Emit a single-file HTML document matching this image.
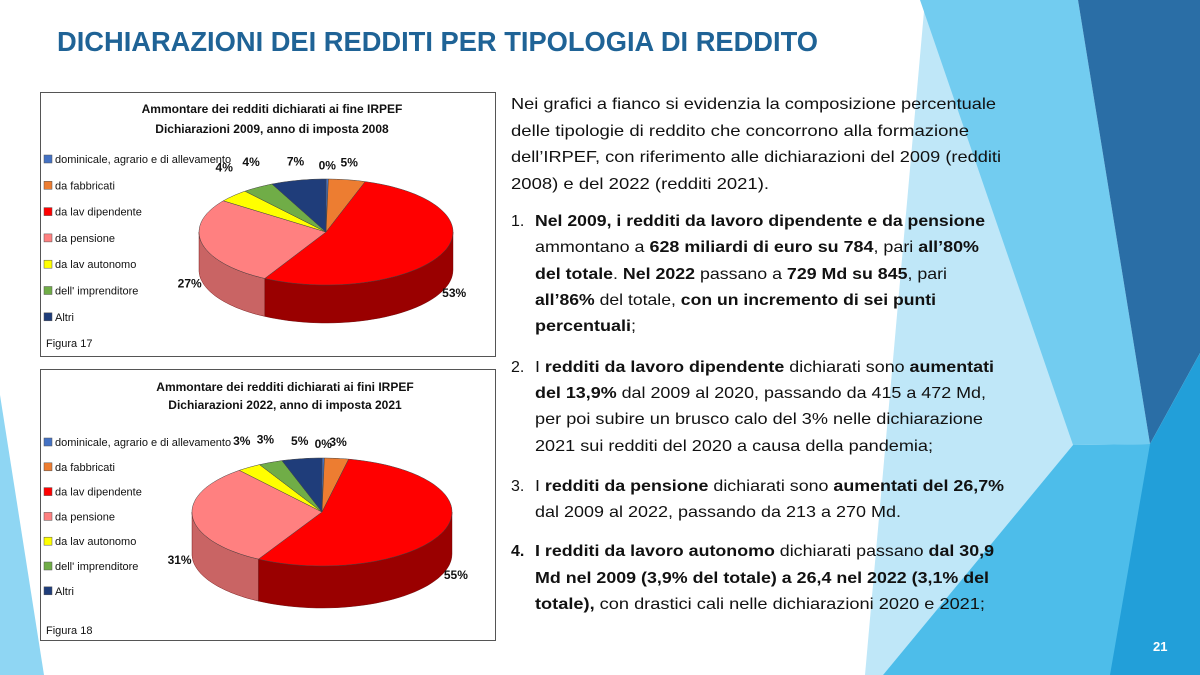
<!DOCTYPE html>
<html><head><meta charset="utf-8"><style>
html,body{margin:0;padding:0;background:#fff;}
svg{display:block;font-family:"Liberation Sans",sans-serif;}
.t{font-size:16px;fill:#111;}
.b{font-weight:bold;}
.lg{font-size:11px;fill:#111;}
.ct{font-size:12px;font-weight:bold;fill:#111;}
.pl{font-size:12px;font-weight:bold;fill:#111;}
</style></head><body>
<svg id="s" width="1200" height="675" viewBox="0 0 1200 675" xmlns="http://www.w3.org/2000/svg">
<g>
<polygon points="925,0 1073,445 883,675 865,675" fill="#bfe7f8"/>
<polygon points="920,0 1078,0 1150,444 1073,445" fill="#72ccf0"/>
<polygon points="1073,445 1150,444 1200,675 883,675" fill="#4dbdea"/>
<polygon points="1078,0 1200,0 1200,353 1150,444" fill="#2a6ea6"/>
<polygon points="1150,444 1200,353 1200,675 1110,675" fill="#229fd9"/>
<polygon points="0,395 44,675 0,675" fill="#8fd6f3"/>
</g>
<text x="57" y="51" font-size="28" font-weight="bold" fill="#1f6396" textLength="761" lengthAdjust="spacingAndGlyphs">DICHIARAZIONI DEI REDDITI PER TIPOLOGIA DI REDDITO</text>

<g>
<text class="t" x="511" y="109" textLength="485" lengthAdjust="spacingAndGlyphs">Nei grafici a fianco si evidenzia la composizione percentuale</text>
<text class="t" x="511" y="136" textLength="458" lengthAdjust="spacingAndGlyphs">delle tipologie di reddito che concorrono alla formazione</text>
<text class="t" x="511" y="162" textLength="490" lengthAdjust="spacingAndGlyphs">dell’IRPEF, con riferimento alle dichiarazioni del 2009 (redditi</text>
<text class="t" x="511" y="189" textLength="258" lengthAdjust="spacingAndGlyphs">2008) e del 2022 (redditi 2021).</text>

<text class="t" x="511" y="226">1.</text>
<text class="t b" x="535" y="226" textLength="450" lengthAdjust="spacingAndGlyphs">Nel 2009, i redditi da lavoro dipendente e da pensione</text>
<text class="t" x="535" y="252" textLength="444" lengthAdjust="spacingAndGlyphs">ammontano a <tspan class="b">628 miliardi di euro su 784</tspan>, pari <tspan class="b">all’80%</tspan></text>
<text class="t" x="535" y="279" textLength="412" lengthAdjust="spacingAndGlyphs"><tspan class="b">del totale</tspan>. <tspan class="b">Nel 2022</tspan> passano a <tspan class="b">729 Md su 845</tspan>, pari</text>
<text class="t" x="535" y="305" textLength="401" lengthAdjust="spacingAndGlyphs"><tspan class="b">all’86%</tspan> del totale, <tspan class="b">con un incremento di sei punti</tspan></text>
<text class="t b" x="535" y="331" textLength="101" lengthAdjust="spacingAndGlyphs">percentuali<tspan font-weight="normal">;</tspan></text>

<text class="t" x="511" y="372">2.</text>
<text class="t" x="535" y="372" textLength="459" lengthAdjust="spacingAndGlyphs">I <tspan class="b">redditi da lavoro dipendente</tspan> dichiarati sono <tspan class="b">aumentati</tspan></text>
<text class="t" x="535" y="398" textLength="451" lengthAdjust="spacingAndGlyphs"><tspan class="b">del 13,9%</tspan> dal 2009 al 2020, passando da 415 a 472 Md,</text>
<text class="t" x="535" y="424" textLength="448" lengthAdjust="spacingAndGlyphs">per poi subire un brusco calo del 3% nelle dichiarazione</text>
<text class="t" x="535" y="451" textLength="398" lengthAdjust="spacingAndGlyphs">2021 sui redditi del 2020 a causa della pandemia;</text>

<text class="t" x="511" y="491">3.</text>
<text class="t" x="535" y="491" textLength="469" lengthAdjust="spacingAndGlyphs">I <tspan class="b">redditi da pensione</tspan> dichiarati sono <tspan class="b">aumentati del 26,7%</tspan></text>
<text class="t" x="535" y="517" textLength="366" lengthAdjust="spacingAndGlyphs">dal 2009 al 2022, passando da 213 a 270 Md.</text>

<text class="t b" x="511" y="556">4.</text>
<text class="t" x="535" y="556" textLength="459" lengthAdjust="spacingAndGlyphs"><tspan class="b">I redditi da lavoro autonomo</tspan> dichiarati passano <tspan class="b">dal 30,9</tspan></text>
<text class="t b" x="535" y="583" textLength="454" lengthAdjust="spacingAndGlyphs">Md nel 2009 (3,9% del totale) a 26,4 nel 2022 (3,1% del</text>
<text class="t" x="535" y="609" textLength="450" lengthAdjust="spacingAndGlyphs"><tspan class="b">totale),</tspan> con drastici cali nelle dichiarazioni 2020 e 2021;</text>
</g>
<text x="1153" y="651" font-size="13" font-weight="bold" fill="#fff">21</text>

<g id="c1">
<rect x="40.5" y="92.5" width="455" height="264" fill="#fff" stroke="#555"/>
<text class="ct" x="272" y="113" text-anchor="middle">Ammontare dei redditi dichiarati ai fine IRPEF</text>
<text class="ct" x="272" y="133" text-anchor="middle">Dichiarazioni 2009, anno di imposta 2008</text>
<text x="46" y="347" font-size="11" fill="#111">Figura 17</text>
</g>
<g id="c2">
<rect x="40.5" y="369.5" width="455" height="271" fill="#fff" stroke="#555"/>
<text class="ct" x="285" y="391" text-anchor="middle">Ammontare dei redditi dichiarati ai fini IRPEF</text>
<text class="ct" x="285" y="409" text-anchor="middle">Dichiarazioni 2022, anno di imposta 2021</text>
<text x="46" y="634" font-size="11" fill="#111">Figura 18</text>
</g>
</svg>
<script>
const categories = ["dominicale, agrario e di allevamento","da fabbricati","da lav dipendente","da pensione","da lav autonomo","dell' imprenditore","Altri"];
const values2009 = [0.3, 4.7, 53, 27, 4, 4, 7];
const values2022 = [0.3, 3, 55, 31, 3, 3, 5];
const labels2009 = ["0%","5%","53%","27%","4%","4%","7%"];
const labels2022 = ["0%","3%","55%","31%","3%","3%","5%"];
const topColors = ["#4472c4","#ed7d31","#ff0000","#ff8080","#ffff00","#70ad47","#1f3d7a"];
const sideColors = ["#2f5597","#b85c1c","#9a0000","#c96464","#b8b800","#4e7d32","#14284f"];
const NS = "http://www.w3.org/2000/svg";
function mk(tag, attrs, parent){const e=document.createElementNS(NS,tag);for(const k in attrs)e.setAttribute(k,attrs[k]);parent.appendChild(e);return e;}
function pt(g,th,dy){return [g.cx+g.rx*Math.sin(th), g.cy-g.ry*Math.cos(th)+(dy||0)];}
function drawPie(gid, vals, labs, g, legendX, legendY0, legendStep, prefix){
  const root=document.getElementById(gid);
  categories.forEach((c,i)=>{
    const y=legendY0+i*legendStep;
    const r=mk("rect",{x:legendX,y:y-8,width:8,height:8,fill:topColors[i],stroke:"#555","stroke-width":0.5},root);
    
    
    const t=mk("text",{x:legendX+11,y:y,class:"lg"},root);
    t.textContent=c;
    
    
  });
  const total=vals.reduce((a,b)=>a+b,0);
  let acc=0; const ang=vals.map(v=>{const a0=acc/total*2*Math.PI; acc+=v; return [a0, acc/total*2*Math.PI];});
  ang.forEach((a,i)=>{
    const s=Math.max(a[0],Math.PI/2), e=Math.min(a[1],3*Math.PI/2);
    if(e<=s) return;
    const N=40; let d="";
    for(let k=0;k<=N;k++){const p=pt(g,s+(e-s)*k/N);d+=(k?"L":"M")+p[0].toFixed(1)+","+p[1].toFixed(1);}
    for(let k=N;k>=0;k--){const p=pt(g,s+(e-s)*k/N,g.depth);d+="L"+p[0].toFixed(1)+","+p[1].toFixed(1);}
    const p=mk("path",{d:d+"Z",fill:sideColors[i],stroke:"#600","stroke-width":0.4},root);
    
    
  });
  ang.forEach((a,i)=>{
    const N=Math.max(2,Math.ceil((a[1]-a[0])*30)); let d="M"+g.cx+","+g.cy;
    for(let k=0;k<=N;k++){const p=pt(g,a[0]+(a[1]-a[0])*k/N);d+="L"+p[0].toFixed(1)+","+p[1].toFixed(1);}
    const p=mk("path",{d:d+"Z",fill:topColors[i],stroke:"#444","stroke-width":0.5},root);
    
    
  });
  ang.forEach((a,i)=>{
    const m=(a[0]+a[1])/2;
    const c=Math.cos(m), s=Math.sin(m);
    const x=g.cx+1.1*g.rx*s;
    let y;
    if(c>0){ y=g.cy-g.ry*(1.25*c+0.5*Math.abs(s))+4; }
    else { y=g.cy-1.25*g.ry*c+g.depth*Math.abs(s)+4; }
    const t=mk("text",{x:x.toFixed(1),y:y.toFixed(1),class:"pl","text-anchor":"middle"},root);
    t.textContent=labs[i];
    
    
  });
}
drawPie("c1", values2009, labels2009, {cx:326,cy:232,rx:127,ry:53,depth:38}, 44, 163, 26.3, "chart-2009");
drawPie("c2", values2022, labels2022, {cx:322,cy:512,rx:130,ry:54,depth:42}, 44, 446, 24.8, "chart-2022");
</script>
</body></html>
